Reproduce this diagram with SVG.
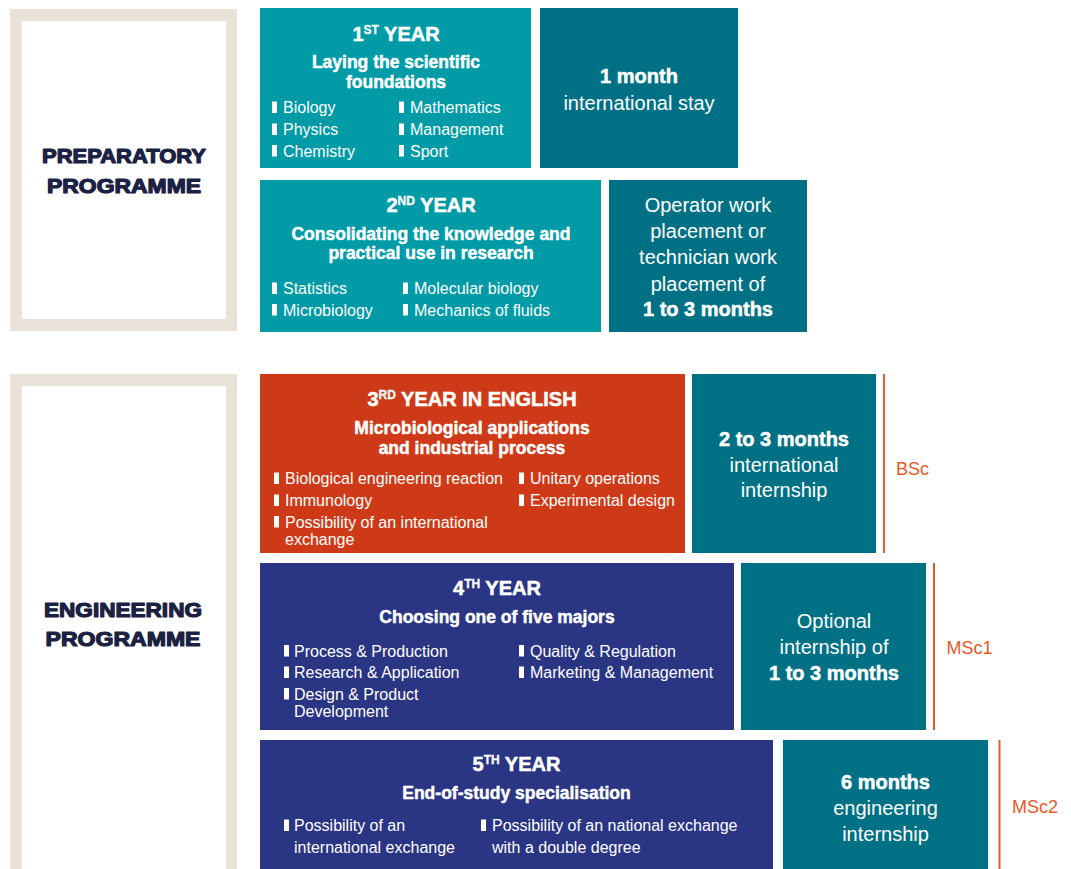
<svg xmlns="http://www.w3.org/2000/svg" width="1071" height="869" viewBox="0 0 1071 869">
<style>
text{font-family:"Liberation Sans",Arial,sans-serif;fill:#fff}
.h{font-size:20px;font-weight:bold;text-anchor:middle;stroke:#fff;stroke-width:0.5}
.sup{font-size:12px;stroke-width:0.3}
.s{font-size:17.5px;font-weight:bold;text-anchor:middle;stroke:#fff;stroke-width:0.45}
.i{font-size:16px}
.c{font-size:20px;text-anchor:middle}
.b{font-weight:bold;stroke:#fff;stroke-width:0.5}
.lbl{font-size:20px;font-weight:bold;fill:#1b2142;stroke:#1b2142;stroke-width:1.2;stroke-linejoin:round;text-anchor:middle}
.deg{font-size:18px;fill:#e85a28}
.lt{fill:#009ba7}
.dk{fill:#007085}
.rd{fill:#ce3a18}
.nv{fill:#2a3583}
.bul{fill:#fff}
.frame{fill:#e8e2d8}
.inner{fill:#fff}
.ln{stroke:#e85a28;stroke-width:2;fill:none}
</style>
<defs>
<rect id="bu" width="5" height="11.5" class="bul"/>
</defs>
<rect width="1071" height="869" fill="#fff"/>

<g id="prep-frame">
<rect x="10" y="9" width="227" height="322" class="frame"/>
<rect x="22" y="21" width="204" height="298" class="inner"/>
<text class="lbl" x="124" y="163" textLength="164" lengthAdjust="spacingAndGlyphs">PREPARATORY</text>
<text class="lbl" x="124" y="193" textLength="154" lengthAdjust="spacingAndGlyphs">PROGRAMME</text>
</g>

<g id="eng-frame">
<rect x="10" y="374" width="227" height="500" class="frame"/>
<rect x="22" y="386" width="204" height="490" class="inner"/>
<text class="lbl" x="123" y="617" textLength="158" lengthAdjust="spacingAndGlyphs">ENGINEERING</text>
<text class="lbl" x="123" y="646" textLength="155" lengthAdjust="spacingAndGlyphs">PROGRAMME</text>
</g>

<g id="year1">
<rect x="260" y="8" width="271" height="160" class="lt"/>
<text class="h" x="396" y="41">1<tspan class="sup" dy="-7">ST</tspan><tspan dy="7"> YEAR</tspan></text>
<text class="s" x="396" y="68">Laying the scientific</text>
<text class="s" x="396" y="87.5">foundations</text>
<use href="#bu" x="272" y="101.5"/><text class="i" x="283" y="113">Biology</text>
<use href="#bu" x="272" y="123.5"/><text class="i" x="283" y="135">Physics</text>
<use href="#bu" x="272" y="145"/><text class="i" x="283" y="156.5">Chemistry</text>
<use href="#bu" x="399" y="101.5"/><text class="i" x="410" y="113">Mathematics</text>
<use href="#bu" x="399" y="123.5"/><text class="i" x="410" y="135">Management</text>
<use href="#bu" x="399" y="145"/><text class="i" x="410" y="156.5">Sport</text>
</g>

<g id="stay1">
<rect x="540" y="8" width="198" height="160" class="dk"/>
<text class="c b" x="639" y="83">1 month</text>
<text class="c" x="639" y="109.5">international stay</text>
</g>

<g id="year2">
<rect x="260" y="180" width="341" height="152" class="lt"/>
<text class="h" x="431" y="212">2<tspan class="sup" dy="-7">ND</tspan><tspan dy="7"> YEAR</tspan></text>
<text class="s" x="431" y="239.5">Consolidating the knowledge and</text>
<text class="s" x="431" y="258.5">practical use in research</text>
<use href="#bu" x="272" y="282.5"/><text class="i" x="283" y="294">Statistics</text>
<use href="#bu" x="272" y="304"/><text class="i" x="283" y="315.5">Microbiology</text>
<use href="#bu" x="403" y="282.5"/><text class="i" x="414" y="294">Molecular biology</text>
<use href="#bu" x="403" y="304"/><text class="i" x="414" y="315.5">Mechanics of fluids</text>
</g>

<g id="placement2">
<rect x="609" y="180" width="198" height="152" class="dk"/>
<text class="c" x="708" y="212">Operator work</text>
<text class="c" x="708" y="238">placement or</text>
<text class="c" x="708" y="264">technician work</text>
<text class="c" x="708" y="290.5">placement of</text>
<text class="c b" x="708" y="316">1 to 3 months</text>
</g>

<g id="year3">
<rect x="260" y="374" width="425" height="179" class="rd"/>
<text class="h" x="472" y="405.5">3<tspan class="sup" dy="-7">RD</tspan><tspan dy="7"> YEAR IN ENGLISH</tspan></text>
<text class="s" x="472" y="434">Microbiological applications</text>
<text class="s" x="472" y="454">and industrial process</text>
<use href="#bu" x="274" y="472.5"/><text class="i" x="285" y="484">Biological engineering reaction</text>
<use href="#bu" x="274" y="494.5"/><text class="i" x="285" y="506">Immunology</text>
<use href="#bu" x="274" y="516"/><text class="i" x="285" y="527.5">Possibility of an international</text>
<text class="i" x="285" y="544.5">exchange</text>
<use href="#bu" x="519" y="472.5"/><text class="i" x="530" y="484">Unitary operations</text>
<use href="#bu" x="519" y="494.5"/><text class="i" x="530" y="506">Experimental design</text>
</g>

<g id="internship3">
<rect x="692" y="374" width="184" height="179" class="dk"/>
<text class="c b" x="784" y="446">2 to 3 months</text>
<text class="c" x="784" y="472">international</text>
<text class="c" x="784" y="497">internship</text>
</g>

<g id="year4">
<rect x="260" y="563" width="474" height="167" class="nv"/>
<text class="h" x="497" y="594.5">4<tspan class="sup" dy="-7">TH</tspan><tspan dy="7"> YEAR</tspan></text>
<text class="s" x="497" y="623">Choosing one of five majors</text>
<use href="#bu" x="284" y="645"/><text class="i" x="294" y="656.5">Process &amp; Production</text>
<use href="#bu" x="284" y="666.5"/><text class="i" x="294" y="678">Research &amp; Application</text>
<use href="#bu" x="284" y="688"/><text class="i" x="294" y="699.5">Design &amp; Product</text>
<text class="i" x="294" y="717">Development</text>
<use href="#bu" x="519" y="645"/><text class="i" x="530" y="656.5">Quality &amp; Regulation</text>
<use href="#bu" x="519" y="666.5"/><text class="i" x="530" y="678">Marketing &amp; Management</text>
</g>

<g id="internship4">
<rect x="741" y="563" width="185" height="167" class="dk"/>
<text class="c" x="834" y="628">Optional</text>
<text class="c" x="834" y="654">internship of</text>
<text class="c b" x="834" y="679.5">1 to 3 months</text>
</g>

<g id="year5">
<rect x="260" y="740" width="513" height="135" class="nv"/>
<text class="h" x="516.5" y="770.5">5<tspan class="sup" dy="-7">TH</tspan><tspan dy="7"> YEAR</tspan></text>
<text class="s" x="516.5" y="798.5">End-of-study specialisation</text>
<use href="#bu" x="284" y="819.5"/><text class="i" x="294" y="831">Possibility of an</text>
<text class="i" x="294" y="853">international exchange</text>
<use href="#bu" x="481" y="819.5"/><text class="i" x="492" y="831">Possibility of an national exchange</text>
<text class="i" x="492" y="853">with a double degree</text>
</g>

<g id="internship5">
<rect x="783" y="740" width="205" height="135" class="dk"/>
<text class="c b" x="885.5" y="789">6 months</text>
<text class="c" x="885.5" y="815">engineering</text>
<text class="c" x="885.5" y="840.5">internship</text>
</g>

<g id="connectors">
<line class="ln" x1="884" y1="374" x2="884" y2="553"/>
<line class="ln" x1="934" y1="563" x2="934" y2="730"/>
<line class="ln" x1="999.5" y1="740" x2="999.5" y2="869"/>
</g>

<g id="degrees">
<text class="deg" x="896" y="475">BSc</text>
<text class="deg" x="946.5" y="654">MSc1</text>
<text class="deg" x="1012" y="813">MSc2</text>
</g>
</svg>
